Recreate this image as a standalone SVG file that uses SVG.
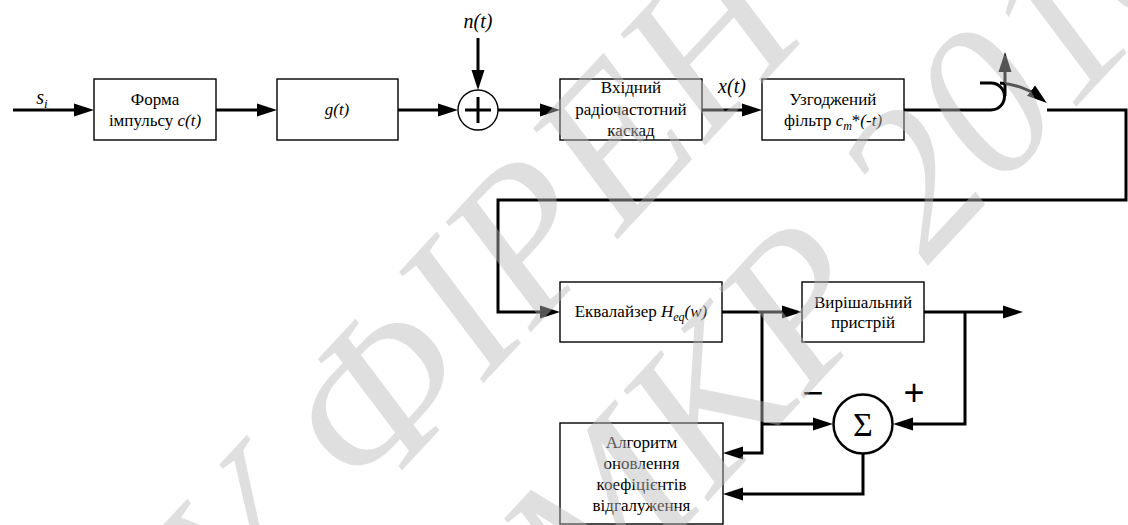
<svg xmlns="http://www.w3.org/2000/svg" width="1128" height="525" viewBox="0 0 1128 525">
<style>
.box{fill:#fff;stroke:#000;stroke-width:1.4}
.ln{fill:none;stroke:#000;stroke-width:3}
.t{font-family:'Liberation Serif','Times New Roman',serif;font-size:17px;fill:#000;text-anchor:middle}
.i{font-style:italic}
.lab{font-family:'Liberation Serif','Times New Roman',serif;font-size:20px;font-style:italic;fill:#000;text-anchor:middle}
.sg{font-family:'Liberation Sans',Arial,sans-serif;font-size:36px;fill:#000;text-anchor:middle}
.wm{font-family:'Liberation Serif','Times New Roman',serif;font-size:210px;font-style:italic;fill:#b9b9b9;fill-opacity:0.46}
</style>
<defs>
<marker id="ah" markerUnits="userSpaceOnUse" markerWidth="22" markerHeight="16" refX="12" refY="7" orient="auto">
<path d="M0,0.5 L20,7 L0,13.5 Z" fill="#000"/>
</marker>
</defs>
<rect width="1128" height="525" fill="#fff"/>
<g id="connectors">
<path class="ln" d="M13,110 H86" marker-end="url(#ah)"/>
<path class="ln" d="M216,110 H269" marker-end="url(#ah)"/>
<path class="ln" d="M398,110 H450" marker-end="url(#ah)"/>
<path class="ln" d="M478,38 V82" marker-end="url(#ah)"/>
<path class="ln" d="M498,110 H552" marker-end="url(#ah)"/>
<path class="ln" d="M702,110 H754" marker-end="url(#ah)"/>
<path class="ln" d="M904,110 H991 A13.5,13.5 0 0 0 991,83 H980"/>
<path class="ln" d="M1005,96 V60" marker-end="url(#ah)"/>
<path class="ln" d="M1000,83 Q1024,85 1040.5,98" marker-end="url(#ah)"/>
<path class="ln" d="M1047,110 H1126 V200 H498 V312 H552" marker-end="url(#ah)"/>
<path class="ln" d="M722,312 H794" marker-end="url(#ah)"/>
<path class="ln" d="M924,312 H1015" marker-end="url(#ah)"/>
<path class="ln" d="M762,312 V453 H731" marker-end="url(#ah)"/>
<path class="ln" d="M762,424 H825" marker-end="url(#ah)"/>
<path class="ln" d="M965,312 V424 H901" marker-end="url(#ah)"/>
<path class="ln" d="M863,454 V494 H731" marker-end="url(#ah)"/>
</g>
<g id="labels">
<text class="lab" x="42" y="104">s<tspan style="font-size:13px" dy="4">i</tspan></text>
<text class="lab" x="478" y="28">n(t)</text>
<text class="lab" x="732" y="93">x(t)</text>
<text class="sg" x="813" y="405">−</text>
<text class="sg" x="914" y="405">+</text>
</g>
<g id="pulse">
<rect class="box" x="94" y="79" width="122" height="61"/>
<text class="t" x="155" y="105">Форма</text>
<text class="t" x="155" y="126">імпульсу <tspan class="i">c(t)</tspan></text>
</g>
<g id="channel">
<rect class="box" x="277" y="79" width="121" height="61"/>
<text class="t i" x="337" y="115">g(t)</text>
</g>
<g id="adder">
<circle cx="478" cy="110" r="20" fill="#fff" stroke="#000" stroke-width="1.4"/>
<path d="M465,110 H491 M478,97 V123" stroke="#000" stroke-width="3" fill="none"/>
</g>
<g id="rf">
<rect class="box" x="560" y="79" width="142" height="61"/>
<text class="t" x="631" y="93">Вхідний</text>
<text class="t" x="631" y="115">радіочастотний</text>
<text class="t" x="631" y="136">каскад</text>
</g>
<g id="matched">
<rect class="box" x="762" y="79" width="142" height="61"/>
<text class="t" x="833" y="105">Узгоджений</text>
<text class="t" x="833" y="126">фільтр <tspan class="i">c</tspan><tspan class="i" style="font-size:12px" dy="4">m</tspan><tspan dy="-4">*</tspan><tspan class="i">(-t)</tspan></text>
</g>
<g id="equalizer">
<rect class="box" x="560" y="282" width="162" height="60"/>
<text class="t" x="641" y="317">Еквалайзер <tspan class="i">H</tspan><tspan class="i" style="font-size:12px" dy="4">eq</tspan><tspan class="i" dy="-4">(w)</tspan></text>
</g>
<g id="decision">
<rect class="box" x="802" y="282" width="122" height="60"/>
<text class="t" x="863" y="308">Вирішальний</text>
<text class="t" x="863" y="328">пристрій</text>
</g>
<g id="sum">
<circle cx="863" cy="424" r="29.5" fill="#fff" stroke="#000" stroke-width="2.5"/>
<text class="t" x="863" y="436" style="font-size:34px">Σ</text>
</g>
<g id="update">
<rect class="box" x="560" y="423" width="163" height="101"/>
<text class="t" x="641.5" y="448">Алгоритм</text>
<text class="t" x="641.5" y="469">оновлення</text>
<text class="t" x="641.5" y="490">коефіцієнтів</text>
<text class="t" x="641.5" y="511">відгалуження</text>
</g>
<g id="watermark">
<text class="wm" transform="translate(-34,938) rotate(-47)">ВНТУ ФІРЕН</text>
<text class="wm" transform="translate(590,628) rotate(-47)">МКР 2016</text>
</g>
</svg>
